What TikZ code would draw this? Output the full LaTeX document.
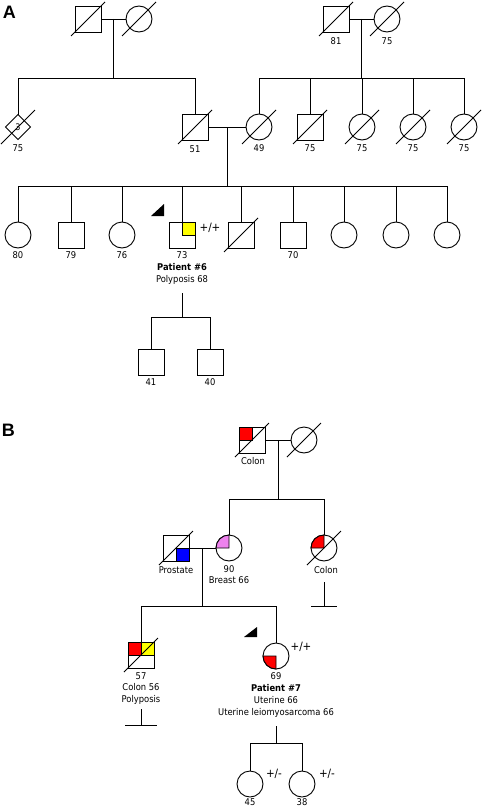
\documentclass[tikz,border=0pt]{standalone}
\usepackage{fontspec}
\setmainfont{DejaVu Sans}[FakeStretch=0.9]
\newfontfamily\panelfont{Liberation Sans}
\usetikzlibrary{shapes.geometric,calc}
\definecolor{qred}{RGB}{255,0,0}
\definecolor{qyellow}{RGB}{255,255,0}
\definecolor{qblue}{RGB}{0,0,255}
\definecolor{qpink}{RGB}{238,130,238}
\newcommand\dslash[1]{\draw ([shift={(-17,17)}]#1.center) -- ([shift={(17,-17)}]#1.center);}
\begin{document}
\begin{tikzpicture}[x=1pt,y=-1pt,line width=0.9pt,
 sq/.style={draw,rectangle,minimum size=26pt,inner sep=0pt,outer sep=0pt},
 ci/.style={draw,circle,minimum size=26pt,inner sep=0pt,outer sep=0pt},
 di/.style={draw,diamond,minimum size=25pt,inner sep=0pt,outer sep=0pt,font=\fontsize{9}{10}\selectfont},
 lbl/.style={inner sep=0pt,font=\fontsize{9.3}{10}\selectfont},
 blbl/.style={inner sep=0pt,font=\fontsize{9.3}{10}\selectfont\bfseries},
 geno/.style={inner sep=0pt,font=\fontsize{11.5}{12}\selectfont},
 panel/.style={inner sep=0pt,font=\panelfont\fontsize{18}{20}\selectfont\bfseries,anchor=base west}]
\useasboundingbox (0,0) rectangle (484,808);
% ---------------- Panel A ----------------
\node[panel] (lA) at (2.5,18.5) {A};
\node[sq] (gf1) at (88,19) {};
\node[ci] (gm1) at (139,19) {};
\node[sq] (gf2) at (336,19) {};
\node[ci] (gm2) at (387,19) {};
\node[lbl] (tgf2) at (336,41) {81};
\node[lbl] (tgm2) at (387,41) {75};
\node[di] (d1) at (18,127) {3};
\node[lbl] (td1) at (18,148) {75};
\node[sq] (fa) at (195,127) {};
\node[lbl] (tfa) at (195,149) {51};
\node[ci] (mo) at (259,127) {};
\node[lbl] (tmo) at (259,148) {49};
\node[sq] (u1) at (310,127) {};
\node[lbl] (tu1) at (310,148) {75};
\node[ci] (a1) at (362,127) {};
\node[lbl] (ta1) at (362,148) {75};
\node[ci] (a2) at (413,127) {};
\node[lbl] (ta2) at (413,148) {75};
\node[ci] (a3) at (464,127) {};
\node[lbl] (ta3) at (464,148) {75};
\foreach \n in {gf1,gm1,gf2,gm2,d1,fa,mo,u1,a1,a2,a3} {\dslash{\n}}
\coordinate (s1) at (0,78);
\draw (gf1.east) -- (gm1.west);
\coordinate (m1) at ($(gf1.east)!0.5!(gm1.west)$);
\draw (m1) -- (m1 |- s1);
\draw (d1.north) -- (d1.north |- s1) -- (fa.north |- s1) -- (fa.north);
\draw (gf2.east) -- (gm2.west);
\coordinate (m2) at ($(gf2.east)!0.5!(gm2.west)$);
\draw (m2) -- (m2 |- s1);
\draw (mo.north) -- (mo.north |- s1) -- (a3.north |- s1) -- (a3.north);
\foreach \n in {u1,a1,a2} {\draw (\n.north) -- (\n.north |- s1);}
\draw (fa.east) -- (mo.west);
\coordinate (m3) at ($(fa.east)!0.5!(mo.west)$);
\coordinate (s2) at (0,186);
\draw (m3) -- (m3 |- s2);
\node[ci] (c1) at (18,235) {};
\node[sq] (c2) at (71,235) {};
\node[ci] (c3) at (122,235) {};
\node[sq] (p6) at (182,235) {};
\node[sq] (c5) at (241,235) {};
\node[sq] (c6) at (293,235) {};
\node[ci] (c7) at (344,235) {};
\node[ci] (c8) at (396,235) {};
\node[ci] (c9) at (447,235) {};
\dslash{c5}
\filldraw[fill=qyellow] (p6.center) rectangle (p6.north east);
\node[lbl] (tc1) at (18,255) {80};
\node[lbl] (tc2) at (71,255) {79};
\node[lbl] (tc3) at (122,255) {76};
\node[lbl] (tp6) at (182,255) {73};
\node[lbl] (tc6) at (293,255) {70};
\node[blbl] (np6) at (182,267.5) {Patient \#6};
\node[lbl] (dp6) at (182,280) {Polyposis 68};
\node[geno] (gp6) at (210,228) {+/+};
\fill (151,216) -- (164,216) -- (164,204) -- cycle;
\draw (c1.north) -- (c1.north |- s2) -- (c9.north |- s2) -- (c9.north);
\foreach \n in {c2,c3,p6,c5,c6,c7,c8} {\draw (\n.north) -- (\n.north |- s2);}
\coordinate (p6d) at (182,293);
\coordinate (s3) at (0,317);
\draw (p6d) -- (p6d |- s3);
\node[sq] (g1) at (151,362) {};
\node[sq] (g2) at (210,362) {};
\node[lbl] (tg1) at (151,382) {41};
\node[lbl] (tg2) at (210,382) {40};
\draw (g1.north) -- (g1.north |- s3) -- (g2.north |- s3) -- (g2.north);
% ---------------- Panel B ----------------
\node[panel] (lB) at (1.5,436) {B};
\node[sq] (gf3) at (252,440) {};
\node[ci] (gm3) at (304,440) {};
\filldraw[fill=qred] (gf3.center) rectangle (gf3.north west);
\dslash{gf3}
\dslash{gm3}
\node[lbl] (tgf3) at (253,461) {Colon};
\draw (gf3.east) -- (gm3.west);
\coordinate (m4) at ($(gf3.east)!0.5!(gm3.west)$);
\coordinate (s4) at (0,499);
\draw (m4) -- (m4 |- s4);
\node[ci] (mo2) at (229,548) {};
\node[ci] (au) at (324,548) {};
\node[sq] (fa2) at (176,548) {};
\filldraw[fill=qpink] (mo2.center) -- (mo2.north) arc[start angle=90,end angle=180,radius=13pt] -- cycle;
\filldraw[fill=qred] (au.center) -- (au.north) arc[start angle=90,end angle=180,radius=13pt] -- cycle;
\filldraw[fill=qblue] (fa2.center) rectangle (fa2.south east);
\dslash{au}
\dslash{fa2}
\draw (mo2.north) -- (mo2.north |- s4) -- (au.north |- s4) -- (au.north);
\node[lbl] (tmo2) at (229,569) {90};
\node[lbl] (dmo2) at (229,580) {Breast 66};
\node[lbl] (tau) at (326,570) {Colon};
\node[lbl] (tfa2) at (176,570) {Prostate};
\coordinate (au1) at (324,582);
\coordinate (au2) at (324,606);
\draw (au1) -- (au2);
\draw ([xshift=-13pt]au2) -- ([xshift=13pt]au2);
\draw (fa2.east) -- (mo2.west);
\coordinate (m5) at ($(fa2.east)!0.5!(mo2.west)$);
\coordinate (s5) at (0,606);
\draw (m5) -- (m5 |- s5);
\node[sq] (son) at (141,655) {};
\node[ci] (p7) at (276,656) {};
\filldraw[fill=qred] (son.center) rectangle (son.north west);
\filldraw[fill=qyellow] (son.center) rectangle (son.north east);
\dslash{son}
\filldraw[fill=qred] (p7.center) -- (p7.west) arc[start angle=180,end angle=270,radius=13pt] -- cycle;
\draw (son.north) -- (son.north |- s5) -- (p7.north |- s5) -- (p7.north);
\node[lbl] (tson) at (141,676) {57};
\node[lbl] (dson1) at (141,687.5) {Colon 56};
\node[lbl] (dson2) at (141,700) {Polyposis};
\coordinate (so1) at (141,709);
\coordinate (so2) at (141,725);
\draw (so1) -- (so2);
\draw ([xshift=-16pt]so2) -- ([xshift=16pt]so2);
\fill (244,637) -- (257,637) -- (257,627) -- cycle;
\node[geno] (gp7) at (301,647) {+/+};
\node[lbl] (tp7) at (276,676) {69};
\node[blbl] (np7) at (276,688) {Patient \#7};
\node[lbl] (dp7a) at (276,700) {Uterine 66};
\node[lbl] (dp7b) at (276,712.5) {Uterine leiomyosarcoma 66};
\coordinate (p7d) at (276,726);
\coordinate (s6) at (0,743);
\draw (p7d) -- (p7d |- s6);
\node[ci] (k1) at (250,784) {};
\node[ci] (k2) at (302,784) {};
\draw (k1.north) -- (k1.north |- s6) -- (k2.north |- s6) -- (k2.north);
\node[geno] (gk1) at (274,774) {+/-};
\node[geno] (gk2) at (327,774) {+/-};
\node[lbl] (tk1) at (250,802) {45};
\node[lbl] (tk2) at (302,802) {38};
\end{tikzpicture}
\end{document}
